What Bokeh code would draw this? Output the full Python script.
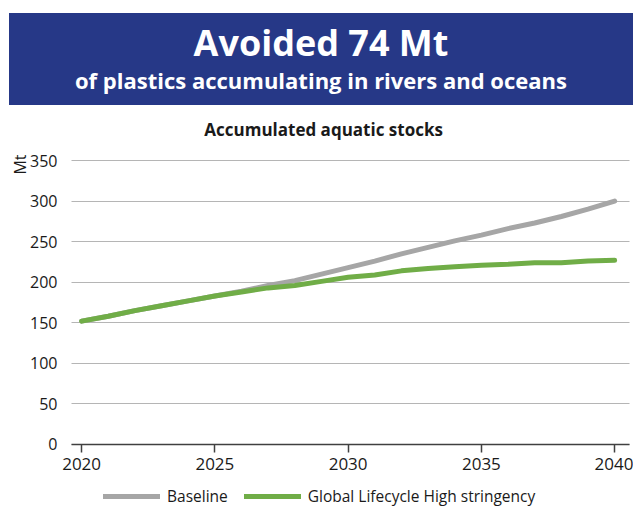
import math
from bokeh.plotting import figure
from bokeh.models import Div, Label, Legend, LegendItem, Range1d, FixedTicker, ColumnDataSource, Grid
from bokeh.layouts import column
from bokeh.embed import file_html
from bokeh.resources import INLINE

# ---- data ----
years = list(range(2020, 2041))
baseline = [152, 158, 165, 171, 177, 183, 189, 196, 202, 210, 218,
            226, 235, 243, 251, 258, 266, 273, 281, 290, 300]
high_stringency = [152, 158, 165, 171, 177, 183, 188, 193, 196, 201, 206,
                   209, 214, 217, 219, 221, 222, 224, 224, 226, 227]
series_names = ["Baseline", "Global Lifecycle High stringency"]
x_ticks = [2020, 2025, 2030, 2035, 2040]
y_ticks = [0, 50, 100, 150, 200, 250, 300, 350]
title_main = "Avoided 74 Mt"
title_sub = "of plastics accumulating in rivers and oceans"
chart_title = "Accumulated aquatic stocks"
y_unit = "Mt"

# ---- layout constants (pixels -> data extents) ----
X_LEFT, X_RIGHT = 2019.62, 2040.56        # extent of the plotting area (gridlines)
X_MIN, X_MAX = 2016.956, 2040.708         # whole canvas width
Y_MIN, Y_MAX = -78.9, 417.8               # whole canvas height below the banner

# ---- style ----
BANNER = "#263887"
GRAY = "#a6a6a6"
GREEN = "#70ad47"
TEXT = "#1a1a1a"
FONT = "Open Sans"

banner_html = f"""
<div style="position:relative;width:633px;height:105px;margin:0;padding:0;">
  <div style="position:absolute;left:9px;top:13px;width:624px;height:92px;background:{BANNER};"></div>
  <div style="position:absolute;left:9px;top:25px;width:624px;text-align:center;color:#ffffff;
       font-family:'{FONT}';font-weight:700;font-size:36px;line-height:36px;white-space:nowrap;">{title_main}</div>
  <div style="position:absolute;left:9px;top:69px;width:624px;text-align:center;color:#ffffff;
       font-family:'{FONT}';font-weight:700;font-size:22px;line-height:22px;white-space:nowrap;">{title_sub}</div>
</div>
"""
banner = Div(text=banner_html, width=633, height=105, margin=0)

src = ColumnDataSource(dict(year=years, base=baseline, high=high_stringency))

# the frame covers the whole canvas; both axes are placed at fixed data locations
p = figure(width=633, height=403, output_backend="svg", toolbar_location=None,
           x_range=Range1d(X_MIN, X_MAX), y_range=Range1d(Y_MIN, Y_MAX),
           min_border_left=0, min_border_right=0, min_border_top=0, min_border_bottom=0,
           outline_line_color=None, background_fill_color="white", border_fill_color="white")

r1 = p.line("year", "base", source=src, line_color=GRAY, line_width=5,
            line_cap="round", line_join="round")
r2 = p.line("year", "high", source=src, line_color=GREEN, line_width=5,
            line_cap="round", line_join="round")

p.xgrid.grid_line_color = None
grid_supports_cross = "cross_bounds" in Grid.properties()
if grid_supports_cross:
    p.ygrid.grid_line_color = "#b5b5b5"
    p.ygrid.grid_line_width = 1.2
    p.ygrid.ticker = FixedTicker(ticks=y_ticks)
    p.ygrid.cross_bounds = (X_LEFT, X_RIGHT)
else:
    p.ygrid.grid_line_color = None

p.xaxis.fixed_location = 0
p.xaxis.bounds = (X_LEFT, X_RIGHT)
p.xaxis.ticker = FixedTicker(ticks=x_ticks)
p.xaxis.axis_line_color = "#404040"
p.xaxis.axis_line_width = 1.5
p.xaxis.major_tick_line_color = "#404040"
p.xaxis.major_tick_line_width = 1.5
p.xaxis.major_tick_out = 8
p.xaxis.major_tick_in = 0
p.xaxis.minor_tick_line_color = None
p.xaxis.major_label_standoff = 6
p.xaxis.major_label_text_font = FONT
p.xaxis.major_label_text_font_size = "17px"
p.xaxis.major_label_text_color = TEXT

p.yaxis.fixed_location = X_LEFT
p.yaxis.ticker = FixedTicker(ticks=y_ticks)
p.yaxis.axis_line_color = None
p.yaxis.minor_tick_line_color = None
if grid_supports_cross:
    p.yaxis.major_tick_line_color = None
else:
    # gridlines drawn as long inward ticks
    p.yaxis.major_tick_line_color = "#b5b5b5"
    p.yaxis.major_tick_line_width = 1.2
    p.yaxis.major_tick_in = 558
    p.yaxis.major_tick_out = 0
p.yaxis.major_label_standoff = 8
p.yaxis.major_label_text_font = FONT
p.yaxis.major_label_text_font_size = "16px"
p.yaxis.major_label_text_color = TEXT

# chart subtitle
p.add_layout(Label(x=2029.08, y=388, text=chart_title,
                   text_align="center", text_baseline="middle",
                   text_font=FONT, text_font_size="17px", text_font_style="bold",
                   text_color=TEXT))
# unit label at the top of the y axis
p.add_layout(Label(x=2017.69, y=345, text=y_unit, angle=math.pi / 2,
                   text_align="center", text_baseline="middle",
                   text_font=FONT, text_font_size="16px", text_color=TEXT))

legend = Legend(items=[LegendItem(label=series_names[0], renderers=[r1]),
                       LegendItem(label=series_names[1], renderers=[r2])],
                orientation="horizontal", location=(103, 1),
                glyph_width=57, glyph_height=20, label_standoff=7, spacing=16,
                padding=0, margin=0, border_line_color=None, background_fill_alpha=0,
                label_text_font=FONT, label_text_font_size="15.5px", label_text_color=TEXT)
p.add_layout(legend, "center")

layout = column(banner, p, spacing=0)
open("out.html", "w").write(file_html(layout, INLINE))
